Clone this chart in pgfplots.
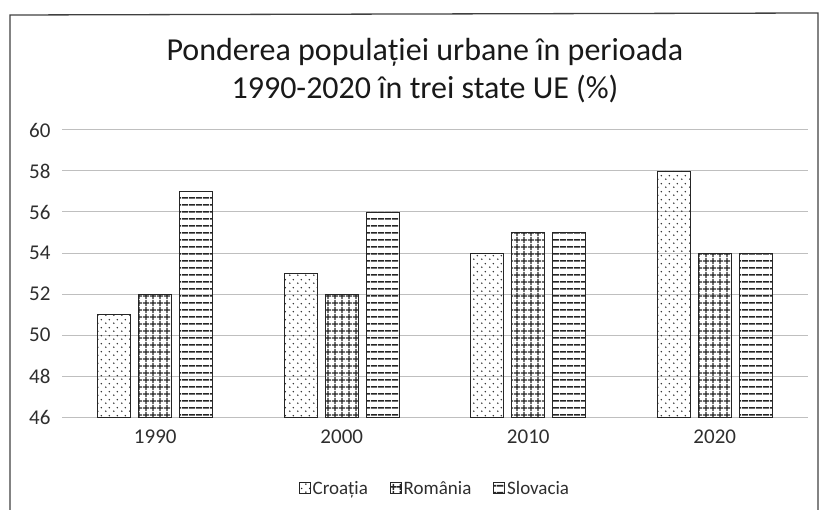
\documentclass[border=0pt]{standalone}
\usepackage{fontspec}
\setmainfont{Carlito}
\usepackage{pgfplots}
\pgfplotsset{compat=1.18}
\usetikzlibrary{patterns.meta}
\tikzdeclarepattern{
  name=pdots, type=uncolored,
  bounding box={(0pt,0pt) and (8pt,8pt)},
  tile size={(8pt,8pt)},
  code={\pgfpathcircle{\pgfpoint{2pt}{2pt}}{0.9pt}\pgfpathcircle{\pgfpoint{6pt}{6pt}}{0.9pt}\pgfusepath{fill}}
}
\tikzdeclarepattern{
  name=pgrid, type=uncolored,
  bounding box={(0pt,0pt) and (6.5pt,6.5pt)},
  tile size={(6.5pt,6.5pt)},
  code={\pgfsetlinewidth{1.5pt}\pgfpathmoveto{\pgfpoint{0pt}{3.25pt}}\pgfpathlineto{\pgfpoint{6.5pt}{3.25pt}}\pgfpathmoveto{\pgfpoint{3.25pt}{0pt}}\pgfpathlineto{\pgfpoint{3.25pt}{6.5pt}}\pgfusepath{stroke}}
}
\tikzdeclarepattern{
  name=phlines, type=uncolored,
  bounding box={(0pt,0pt) and (7pt,7pt)},
  tile size={(7pt,7pt)},
  code={\pgfsetlinewidth{1.8pt}\pgfpathmoveto{\pgfpoint{0pt}{3.5pt}}\pgfpathlineto{\pgfpoint{7pt}{3.5pt}}\pgfusepath{stroke}}
}
\begin{document}
\begin{tikzpicture}[x=1pt,y=1pt]
\useasboundingbox (0,0) rectangle (825,509);
\draw[black!75, line width=1.3pt] (10,-5) -- (10,494) -- (818,496) -- (818,-5);
\node[font=\fontsize{32}{38}\selectfont, align=center, text=black!90] at (425,438) {Ponderea populației urbane în perioada\\1990-2020 în trei state UE (\%)};
\begin{axis}[
  at={(62pt,92pt)}, anchor=south west,
  scale only axis, width=746pt, height=287pt,
  ybar=8pt, bar width=33pt,
  xmin=-0.5, xmax=3.5, ymin=46, ymax=60,
  ytick={46,48,...,60},
  xtick={0,1,2,3}, xticklabels={1990,2000,2010,2020},
  ymajorgrids, grid style={black!25, line width=1pt},
  axis line style={draw=none}, major tick length=0pt,
  tick label style={font=\fontsize{21}{25}\selectfont, text=black!82},
  yticklabel style={xshift=-8pt},
  xticklabel style={yshift=-9pt},
  /pgf/number format/assume math mode=true,
  legend style={at={(0.5,-0.254)}, anchor=center, draw=none, fill=none,
    font=\fontsize{19}{22}\selectfont, text=black!82,
    nodes={text height=1.5ex, text depth=0.3ex},
    /tikz/every odd column/.append style={column sep=0pt},
    /tikz/every even column/.append style={column sep=20pt}},
  legend columns=3,
  legend image code/.code={\draw[#1, line width=0.8pt] (0pt,-1.5pt) rectangle (11pt,9.5pt);},
  every axis plot/.append style={draw=black!85, line width=0.9pt, pattern color=black!85},
]
\addplot[pattern=pdots] coordinates {(0,51) (1,53) (2,54) (3,58)};
\addplot[pattern=pgrid] coordinates {(0,52) (1,52) (2,55) (3,54)};
\addplot[pattern=phlines] coordinates {(0,57) (1,56) (2,55) (3,54)};
\legend{Croația, România, Slovacia}
\end{axis}
\end{tikzpicture}
\end{document}
